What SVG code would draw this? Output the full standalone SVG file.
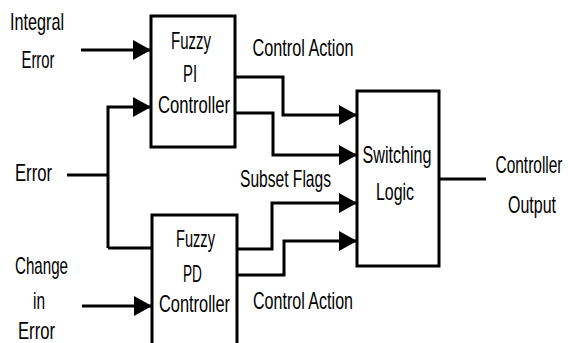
<svg xmlns="http://www.w3.org/2000/svg" width="568" height="343" viewBox="0 0 568 343">
<defs>
<marker id="ah" viewBox="0 0 18 20" refX="17" refY="10" markerWidth="18" markerHeight="20" markerUnits="userSpaceOnUse" orient="auto">
<path d="M0,0 L18,10 L0,20 Z" fill="#000"/>
</marker>
</defs>
<style>
.box{fill:#fff;stroke:#000;stroke-width:3}
.ln{fill:none;stroke:#000;stroke-width:3;stroke-linejoin:miter}
.ar{marker-end:url(#ah)}
text{font-family:"Liberation Sans",Arial,sans-serif;font-size:24px;fill:#000;text-anchor:middle}
</style>
<rect width="568" height="343" fill="#fff"/>
<g id="connectors">
<path class="ln ar" d="M81,50 H150"/>
<path class="ln" d="M67,175 H108"/>
<path class="ln ar" d="M108,248 V107 H150"/>
<path class="ln" d="M108,248 H152"/>
<path class="ln ar" d="M82,306 H151"/>
<path class="ln ar" d="M235,77 H283 V115 H356"/>
<path class="ln ar" d="M235,113 H273 V155 H356"/>
<path class="ln ar" d="M237,249 H272 V203 H356"/>
<path class="ln ar" d="M237,275 H284 V241 H356"/>
<path class="ln" d="M439,179 H486"/>
</g>
<g id="pi">
<rect class="box" x="151" y="16" width="84" height="131"/>
<text x="191" y="49" textLength="40" lengthAdjust="spacingAndGlyphs">Fuzzy</text>
<text x="190" y="82" textLength="14" lengthAdjust="spacingAndGlyphs">PI</text>
<text x="194" y="113" textLength="72" lengthAdjust="spacingAndGlyphs">Controller</text>
</g>
<g id="pd">
<rect class="box" x="152" y="215" width="85" height="140"/>
<text x="195.5" y="247" textLength="39" lengthAdjust="spacingAndGlyphs">Fuzzy</text>
<text x="192.5" y="282" textLength="19" lengthAdjust="spacingAndGlyphs">PD</text>
<text x="194.5" y="312" textLength="71" lengthAdjust="spacingAndGlyphs">Controller</text>
</g>
<g id="switch">
<rect class="box" x="357" y="91" width="82" height="175"/>
<text x="397" y="163" textLength="69" lengthAdjust="spacingAndGlyphs">Switching</text>
<text x="395" y="200" textLength="38" lengthAdjust="spacingAndGlyphs">Logic</text>
</g>
<g id="labels">
<text x="37" y="30" textLength="54" lengthAdjust="spacingAndGlyphs">Integral</text>
<text x="38" y="68" textLength="33" lengthAdjust="spacingAndGlyphs">Error</text>
<text x="33.5" y="181" textLength="37" lengthAdjust="spacingAndGlyphs">Error</text>
<text x="41.5" y="274" textLength="53" lengthAdjust="spacingAndGlyphs">Change</text>
<text x="39" y="309" textLength="12" lengthAdjust="spacingAndGlyphs">in</text>
<text x="36.5" y="339" textLength="37" lengthAdjust="spacingAndGlyphs">Error</text>
<text x="303" y="56" textLength="101" lengthAdjust="spacingAndGlyphs">Control Action</text>
<text x="285.5" y="187" textLength="91" lengthAdjust="spacingAndGlyphs">Subset Flags</text>
<text x="303" y="309" textLength="100" lengthAdjust="spacingAndGlyphs">Control Action</text>
<text x="529" y="173" textLength="67" lengthAdjust="spacingAndGlyphs">Controller</text>
<text x="532" y="213" textLength="48" lengthAdjust="spacingAndGlyphs">Output</text>
</g>
</svg>
